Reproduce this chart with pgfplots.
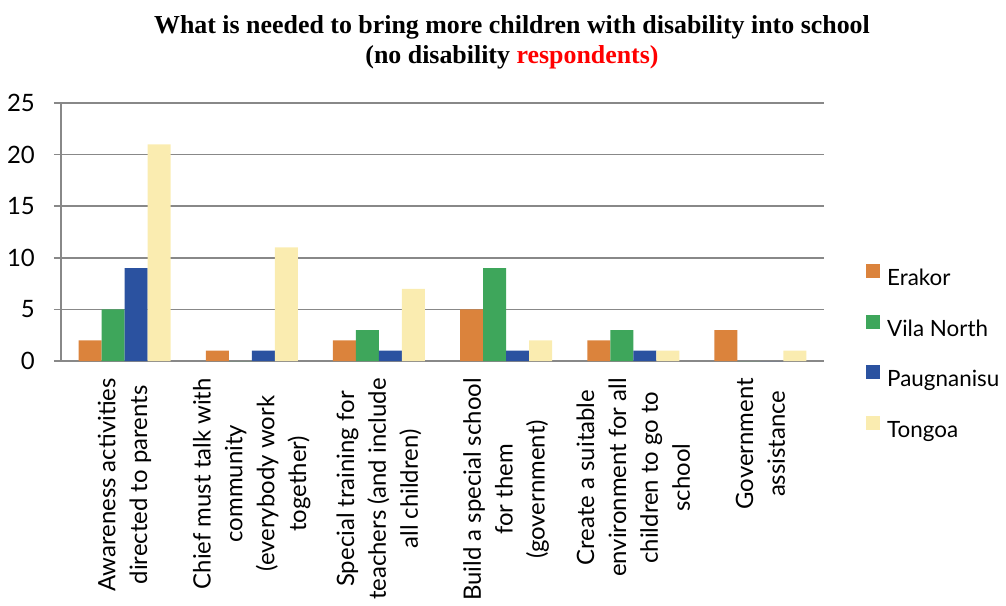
\documentclass[border=0pt]{standalone}
\usepackage{fontspec}
\setmainfont{Lato}
\newfontfamily\titlefont{Liberation Serif}
\usepackage{pgfplots}
\pgfplotsset{compat=1.18}
\definecolor{erakor}{RGB}{219,131,60}
\definecolor{vila}{RGB}{62,166,91}
\definecolor{paug}{RGB}{43,82,160}
\definecolor{tongoa}{RGB}{250,236,176}
\definecolor{gridgray}{RGB}{136,136,136}
\begin{document}
\begin{tikzpicture}
\begin{axis}[
  at={(0bp,0bp)}, anchor=south west,
  scale only axis, width=763bp, height=258bp,
  ybar=0pt, bar width=23bp,
  xmin=-0.5, xmax=5.5, ymin=0, ymax=25,
  xtick={0,1,2,3,4,5},
  xticklabels={{Awareness activities\\directed to parents},
    {Chief must talk with\\community\\(everybody work\\together)},
    {Special training for\\teachers (and include\\all children)},
    {Build a special school\\for them\\(government)},
    {Create a suitable\\environment for all\\children to go to\\school},
    {Government\\assistance}},
  ytick={0,5,10,15,20,25},
  yticklabels={0,5,10,15,20,25},
  ymajorgrids, grid style={draw=gridgray, line width=1.5bp},
  axis x line*=bottom, axis y line*=left,
  axis line style={draw=gridgray, line width=1.5bp, -},
  xtick style={draw=none},
  ytick style={draw=gridgray, line width=1.5bp},
  major tick length=7bp, tick align=outside,
  tick label style={font=\fontsize{24}{32}\selectfont, inner sep=0pt},
  xticklabel style={rotate=90, anchor=east, align=center},
  yticklabel style={anchor=east},
  xticklabel shift=10bp, yticklabel shift=19bp,
  legend style={at={(1.055,0.376)}, anchor=north west, draw=none, fill=none,
    inner sep=0pt, row sep=25bp, column sep=7bp,
    font=\fontsize{22.5}{27}\selectfont,
    nodes={inner sep=0pt, text height=17bp, text depth=4bp}},
  legend cell align=left,
  legend image code/.code={\fill[#1] (0bp,1bp) rectangle (14bp,15bp);},
]
\addplot[fill=erakor, draw=none] coordinates {(0,2) (1,1) (2,2) (3,5) (4,2) (5,3)};
\addplot[fill=vila, draw=none] coordinates {(0,5) (1,0) (2,3) (3,9) (4,3) (5,0)};
\addplot[fill=paug, draw=none] coordinates {(0,9) (1,1) (2,1) (3,1) (4,1) (5,0)};
\addplot[fill=tongoa, draw=none] coordinates {(0,21) (1,11) (2,7) (3,2) (4,1) (5,1)};
\legend{Erakor, Vila North, Paugnanisu, Tongoa}
\end{axis}
\node[align=center, font=\titlefont\bfseries\fontsize{26}{30}\selectfont] at (451bp,319bp)
  {What is needed to bring more children with disability into school\\(no disability \textcolor{red}{respondents)}};
\pgfresetboundingbox
\path[use as bounding box] (-61bp,-245bp) rectangle (945bp,361bp);
\end{tikzpicture}
\end{document}
